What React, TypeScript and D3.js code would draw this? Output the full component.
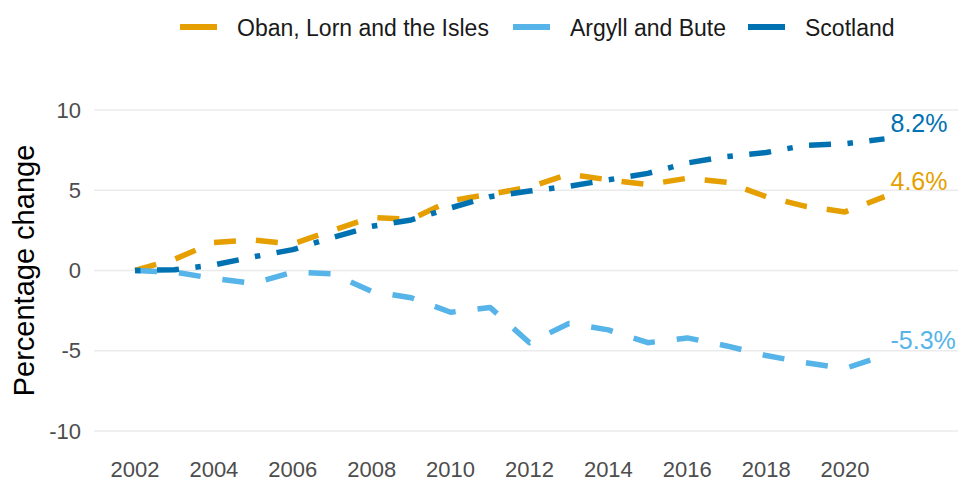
import { useEffect, useRef } from "react";
import * as d3 from "d3";

const years = [2002, 2003, 2004, 2005, 2006, 2007, 2008, 2009, 2010, 2011,
  2012, 2013, 2014, 2015, 2016, 2017, 2018, 2019, 2020, 2021];
const oban = [0, 0.7, 1.75, 1.9, 1.65, 2.5, 3.3, 3.2, 4.35, 4.75,
  5.2, 6.0, 5.65, 5.35, 5.75, 5.5, 4.6, 4.0, 3.65, 4.6];
const argyll = [0, -0.1, -0.5, -0.8, -0.1, -0.2, -1.3, -1.7, -2.6, -2.3,
  -4.5, -3.3, -3.7, -4.5, -4.2, -4.7, -5.3, -5.75, -6.1, -5.3];
const scotland = [0, 0.05, 0.35, 0.85, 1.3, 2.05, 2.75, 3.15, 3.9, 4.6,
  4.95, 5.25, 5.65, 6.05, 6.7, 7.1, 7.35, 7.8, 7.9, 8.2];
const seriesNames = ["Oban, Lorn and the Isles", "Argyll and Bute", "Scotland"];
const yTicks = [-10, -5, 0, 5, 10];
const xTicks = [2002, 2004, 2006, 2008, 2010, 2012, 2014, 2016, 2018, 2020];

const W = 961, H = 483;
const FONT = "'Liberation Sans', Arial, sans-serif";

export default function App() {
  const ref = useRef<SVGSVGElement>(null);

  useEffect(() => {
    const svg = d3.select(ref.current);
    svg.selectAll("*").remove();

    const x = d3.scaleLinear().domain([2002, 2021]).range([135, 884.5]);
    const y = d3.scaleLinear().domain([-10, 10]).range([431, 110]);

    const series = [
      { name: seriesNames[0], values: oban, color: "#E69F00", dash: "22 20" },
      { name: seriesNames[1], values: argyll, color: "#56B4E9", dash: "22 22" },
      { name: seriesNames[2], values: scotland, color: "#0072B2", dash: "5.5 16.5 22 16.5" },
    ];

    // grid
    svg.append("g")
      .selectAll("line")
      .data(yTicks)
      .join("line")
      .attr("x1", 94).attr("x2", 958)
      .attr("y1", d => y(d)).attr("y2", d => y(d))
      .attr("stroke", "#ebebeb").attr("stroke-width", 1.6);

    svg.append("g")
      .selectAll("text")
      .data(yTicks)
      .join("text")
      .attr("x", 81).attr("y", d => y(d))
      .attr("text-anchor", "end").attr("dominant-baseline", "central")
      .attr("font-size", 22).attr("fill", "#4d4d4d").attr("font-family", FONT)
      .text(d => String(d));

    svg.append("g")
      .selectAll("text")
      .data(xTicks)
      .join("text")
      .attr("x", d => x(d)).attr("y", 476.5)
      .attr("text-anchor", "middle")
      .attr("font-size", 22).attr("fill", "#4d4d4d").attr("font-family", FONT)
      .text(d => String(d));

    svg.append("text")
      .attr("transform", `translate(34,${(y(10) + y(-10)) / 2}) rotate(-90)`)
      .attr("text-anchor", "middle")
      .attr("font-size", 29).attr("fill", "#000").attr("font-family", FONT)
      .text("Percentage change");

    const line = d3.line<number>()
      .x((_, i) => x(years[i]))
      .y(d => y(d));

    series.forEach(s => {
      svg.append("path")
        .datum(s.values)
        .attr("d", line)
        .attr("fill", "none")
        .attr("stroke", s.color)
        .attr("stroke-width", 5.5)
        .attr("stroke-dasharray", s.dash)
        .attr("stroke-linejoin", "round");
    });

    // end labels (plain hyphen, like the original)
    series.forEach(s => {
      const last = s.values[s.values.length - 1];
      svg.append("text")
        .attr("x", x(years[years.length - 1]) + 6)
        .attr("y", y(last) - 7)
        .attr("font-size", 25).attr("fill", s.color).attr("font-family", FONT)
        .text(last.toFixed(1) + "%");
    });

    // legend
    const legendX = [180, 513, 748];
    const leg = svg.append("g");
    series.forEach((s, i) => {
      leg.append("line")
        .attr("x1", legendX[i]).attr("x2", legendX[i] + 37)
        .attr("y1", 27).attr("y2", 27)
        .attr("stroke", s.color).attr("stroke-width", 6);
      leg.append("text")
        .attr("x", legendX[i] + 57).attr("y", 36)
        .attr("font-size", 23).attr("fill", "#1a1a1a").attr("font-family", FONT)
        .text(s.name);
    });
  }, []);

  return (
    <svg ref={ref} width={W} height={H}
      style={{ position: "absolute", left: 0, top: 0, background: "#fff" }} />
  );
}
